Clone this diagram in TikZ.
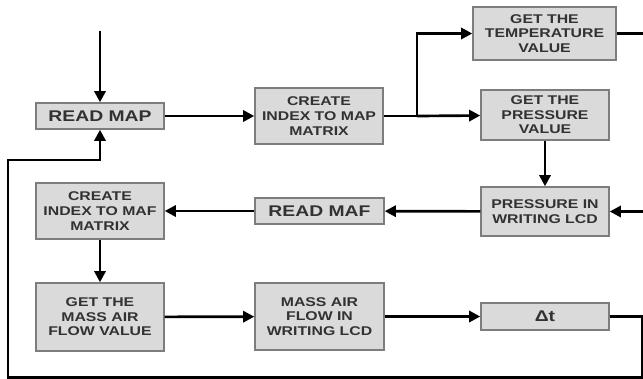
\documentclass[tikz,border=0pt]{standalone}
\usepackage{fontspec}
\setmainfont{Liberation Sans}
\newfontfamily\boxfont[FakeStretch=1.25]{Liberation Sans}
\usepackage{xcolor}
\usepackage{tikz}
\usetikzlibrary{shapes,arrows.meta,positioning}

\definecolor{boxfill}{RGB}{218,218,218}
\definecolor{boxline}{RGB}{125,125,125}
\definecolor{boxtext}{RGB}{50,50,50}

\begin{document}
\begin{tikzpicture}[x=0.025cm, y=-0.025cm,
        block/.style={rectangle, draw=boxline, fill=boxfill, line width=1pt,
            text=boxtext, font=\boxfont\bfseries\fontsize{9}{10.4}\selectfont,
            align=center, minimum width=3.2cm, inner sep=1pt},
        bigblock/.style={block, font=\boxfont\bfseries\fontsize{11}{12}\selectfont},
        flow/.style={-{Triangle[length=2.8mm,width=2.8mm]}, line width=1.9pt},
        wire/.style={line width=1.9pt}]
        \useasboundingbox (0,0) rectangle (643,378);

        % Top row
        \node[bigblock, minimum height=0.65cm] (readmap) at (100,116) {READ MAP};
        \node[block, minimum height=1.4cm] (idxmap) at (319,116) {CREATE\\INDEX TO MAP\\MATRIX};
        \node[block, minimum width=3.575cm, minimum height=1.325cm] (temp) at (544.5,33.5) {GET THE\\TEMPERATURE\\VALUE};
        \node[block, minimum height=1.25cm] (press) at (545,115) {GET THE\\PRESSURE\\VALUE};

        % Middle row
        \node[block, minimum height=1.225cm] (pwrite) at (545,211.5) {PRESSURE IN\\WRITING LCD};
        \node[bigblock, minimum width=3.225cm, minimum height=0.65cm] (readmaf) at (319.5,211) {READ MAF};
        \node[block, minimum height=1.4cm] (idxmaf) at (100,211) {CREATE\\INDEX TO MAF\\MATRIX};

        % Bottom row
        \node[block, minimum height=1.7cm] (mafval) at (100,317) {GET THE\\MASS AIR\\FLOW VALUE};
        \node[block, minimum width=3.225cm, minimum height=1.675cm] (mafwrite) at (319.5,316.5) {MASS AIR\\FLOW IN\\WRITING LCD};
        \node[bigblock, minimum height=0.675cm] (dt) at (545,316.5) {Δt};

        % Helper points
        \coordinate (start) at (100,31);
        \coordinate (split) at (417,116);
        \coordinate (tempout) at (655,33.5);
        \coordinate (loopright) at (642,316.5);
        \coordinate (loopbottom) at (8,377.5);
        \coordinate (loopleft) at (8,160);

        % Connections
        \draw[flow] (start) -- (readmap);
        \draw[flow] (readmap) -- (idxmap);
        \draw[wire] (idxmap) -- (split);
        \draw[flow] (split) -- (press);
        \draw[flow] (split) |- (temp);
        \draw[flow] (temp) -- (tempout) |- (pwrite);
        \draw[flow] (press) -- (pwrite);
        \draw[flow] (pwrite) -- (readmaf);
        \draw[flow] (readmaf) -- (idxmaf);
        \draw[flow] (idxmaf) -- (mafval);
        \draw[flow] (mafval) -- (mafwrite);
        \draw[flow] (mafwrite) -- (dt);
        \draw[flow] (dt) -- (loopright) |- (loopbottom) -- (loopleft) -| (readmap);
\end{tikzpicture}
\end{document}
